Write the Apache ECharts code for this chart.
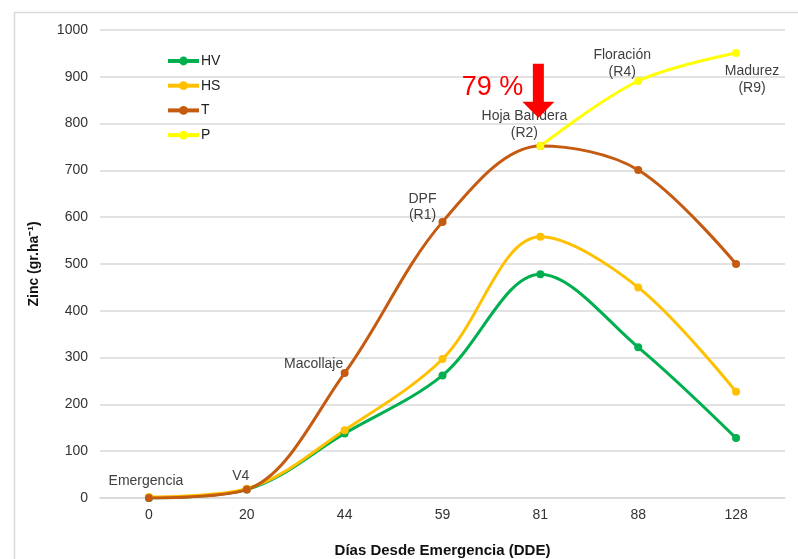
<!DOCTYPE html>
<html>
<head>
<meta charset="utf-8">
<script src="https://cdn.jsdelivr.net/npm/echarts@6/dist/echarts.min.js"></script>
<style>html,body{margin:0;padding:0;background:#fff}#c{width:798px;height:559px}</style>
</head>
<body>
<div id="c"></div>
<script>
// ---- data ----
const categories = ['0', '20', '44', '59', '81', '88', '128'];
const hv = [0, 18, 138, 262, 478, 322, 128];
const hs = [2, 20, 145, 297, 558, 450, 227];
const t  = [0, 18, 267, 590, 752, 701, 500];
const p  = [null, null, null, null, 752, 891, 951];
const seriesNames = ['HV', 'HS', 'T', 'P'];
const stageLabelsT = ['Emergencia', 'V4', 'Macollaje', 'DPF\n(R1)', null, null, null];
const stageLabelsP = [null, null, null, null, 'Hoja Bandera\n(R2)', 'Floración\n(R4)', 'Madurez\n(R9)'];
const arrowIndex = 4;
const arrowValue = 870;
const percentText = '79 %';
const yTicks = { min: 0, max: 1000, interval: 100 };

// ---- styles ----
const colors = ['#00B050', '#FFC000', '#C55A11', '#FFFF00'];
const FONT = 'Liberation Sans, Arial, sans-serif';
const labelStyle = { color: '#404040', fontSize: 14, fontFamily: FONT, lineHeight: 16.5 };
const labelPlacementT = [
  { position: 'top', distance: 6, offset: [-3, 1] },
  { position: 'top', distance: 6, offset: [-6, 5] },
  { position: 'top', distance: 2, offset: [-31, 5] },
  { position: 'top', distance: 2, offset: [-20, 8] }
];
const labelPlacementP = {
  4: { position: 'top', distance: 6, offset: [-16, 5] },
  5: { position: 'top', distance: 3, offset: [-16, 6] },
  6: { position: 'bottom', distance: 8, offset: [16, -2] }
};

function withLabels(values, labels, placements) {
  return values.map((v, i) => {
    if (labels[i] == null) return v;
    const pl = placements[i];
    return {
      value: v,
      label: Object.assign({ show: true, formatter: labels[i], align: 'center' }, labelStyle, pl)
    };
  });
}

const lineSeries = (name, data, color, extra) => Object.assign({
  name: name,
  type: 'line',
  data: data,
  smooth: 0.34,
  symbol: 'circle',
  symbolSize: 8,
  lineStyle: { width: 3, color: color },
  itemStyle: { color: color },
  connectNulls: false,
  label: { show: false }
}, extra || {});

const chart = echarts.init(document.getElementById('c'));
chart.setOption({
  animation: false,
  backgroundColor: '#fff',
  color: colors,
  textStyle: { fontFamily: FONT },
  graphic: [{
    type: 'rect', silent: true, z: -10,
    shape: { x: 14.5, y: 12.5, width: 800, height: 560 },
    style: { fill: 'none', stroke: '#d9d9d9', lineWidth: 1.5 }
  }],
  legend: {
    orient: 'vertical',
    left: 161,
    top: 49,
    itemWidth: 31,
    itemHeight: 11,
    itemGap: 10.7,
    data: seriesNames,
    lineStyle: { width: 4 },
    textStyle: { color: '#222', fontSize: 14, padding: [0, 0, 0, -3] }
  },
  grid: { left: 100, right: 13, top: 30, bottom: 61, outerBoundsMode: 'none', containLabel: false },
  xAxis: {
    type: 'category',
    data: categories,
    boundaryGap: true,
    axisLine: { show: true, lineStyle: { color: '#d9d9d9', width: 1.5 } },
    axisTick: { show: false },
    axisLabel: { color: '#333', fontSize: 14, margin: 10 },
    name: 'Días Desde Emergencia (DDE)',
    nameLocation: 'middle',
    nameGap: 45,
    nameTextStyle: { fontWeight: 'bold', fontSize: 15, color: '#111' }
  },
  yAxis: {
    type: 'value',
    min: yTicks.min, max: yTicks.max, interval: yTicks.interval,
    axisLine: { show: false },
    axisTick: { show: false },
    splitLine: { lineStyle: { color: '#d9d9d9', width: 1.5 } },
    axisLabel: { color: '#333', fontSize: 14, margin: 12, formatter: (v) => String(v) },
    name: 'Zinc (gr.ha⁻¹)',
    nameLocation: 'middle',
    nameGap: 59,
    nameTextStyle: { fontWeight: 'bold', fontSize: 14, color: '#111' }
  },
  series: [
    lineSeries(seriesNames[0], hv, colors[0]),
    lineSeries(seriesNames[1], hs, colors[1]),
    lineSeries(seriesNames[2], withLabels(t, stageLabelsT, labelPlacementT), colors[2]),
    lineSeries(seriesNames[3], withLabels(p, stageLabelsP, labelPlacementP), colors[3], {
      markPoint: {
        silent: true,
        symbol: 'path://M10.5,0 L21.5,0 L21.5,38 L32,38 L16,54 L0,38 L10.5,38 Z',
        symbolSize: [32, 54],
        symbolKeepAspect: false,
        itemStyle: { color: '#FF0000' },
        label: {
          show: true, position: 'left', distance: -1, offset: [0, -3],
          color: '#FF0000', fontSize: 27, fontFamily: FONT
        },
        data: [{ coord: [arrowIndex, arrowValue], value: percentText, symbolOffset: [-2, 0],
                 label: { formatter: percentText } }]
      }
    })
  ]
});
</script>
</body>
</html>
